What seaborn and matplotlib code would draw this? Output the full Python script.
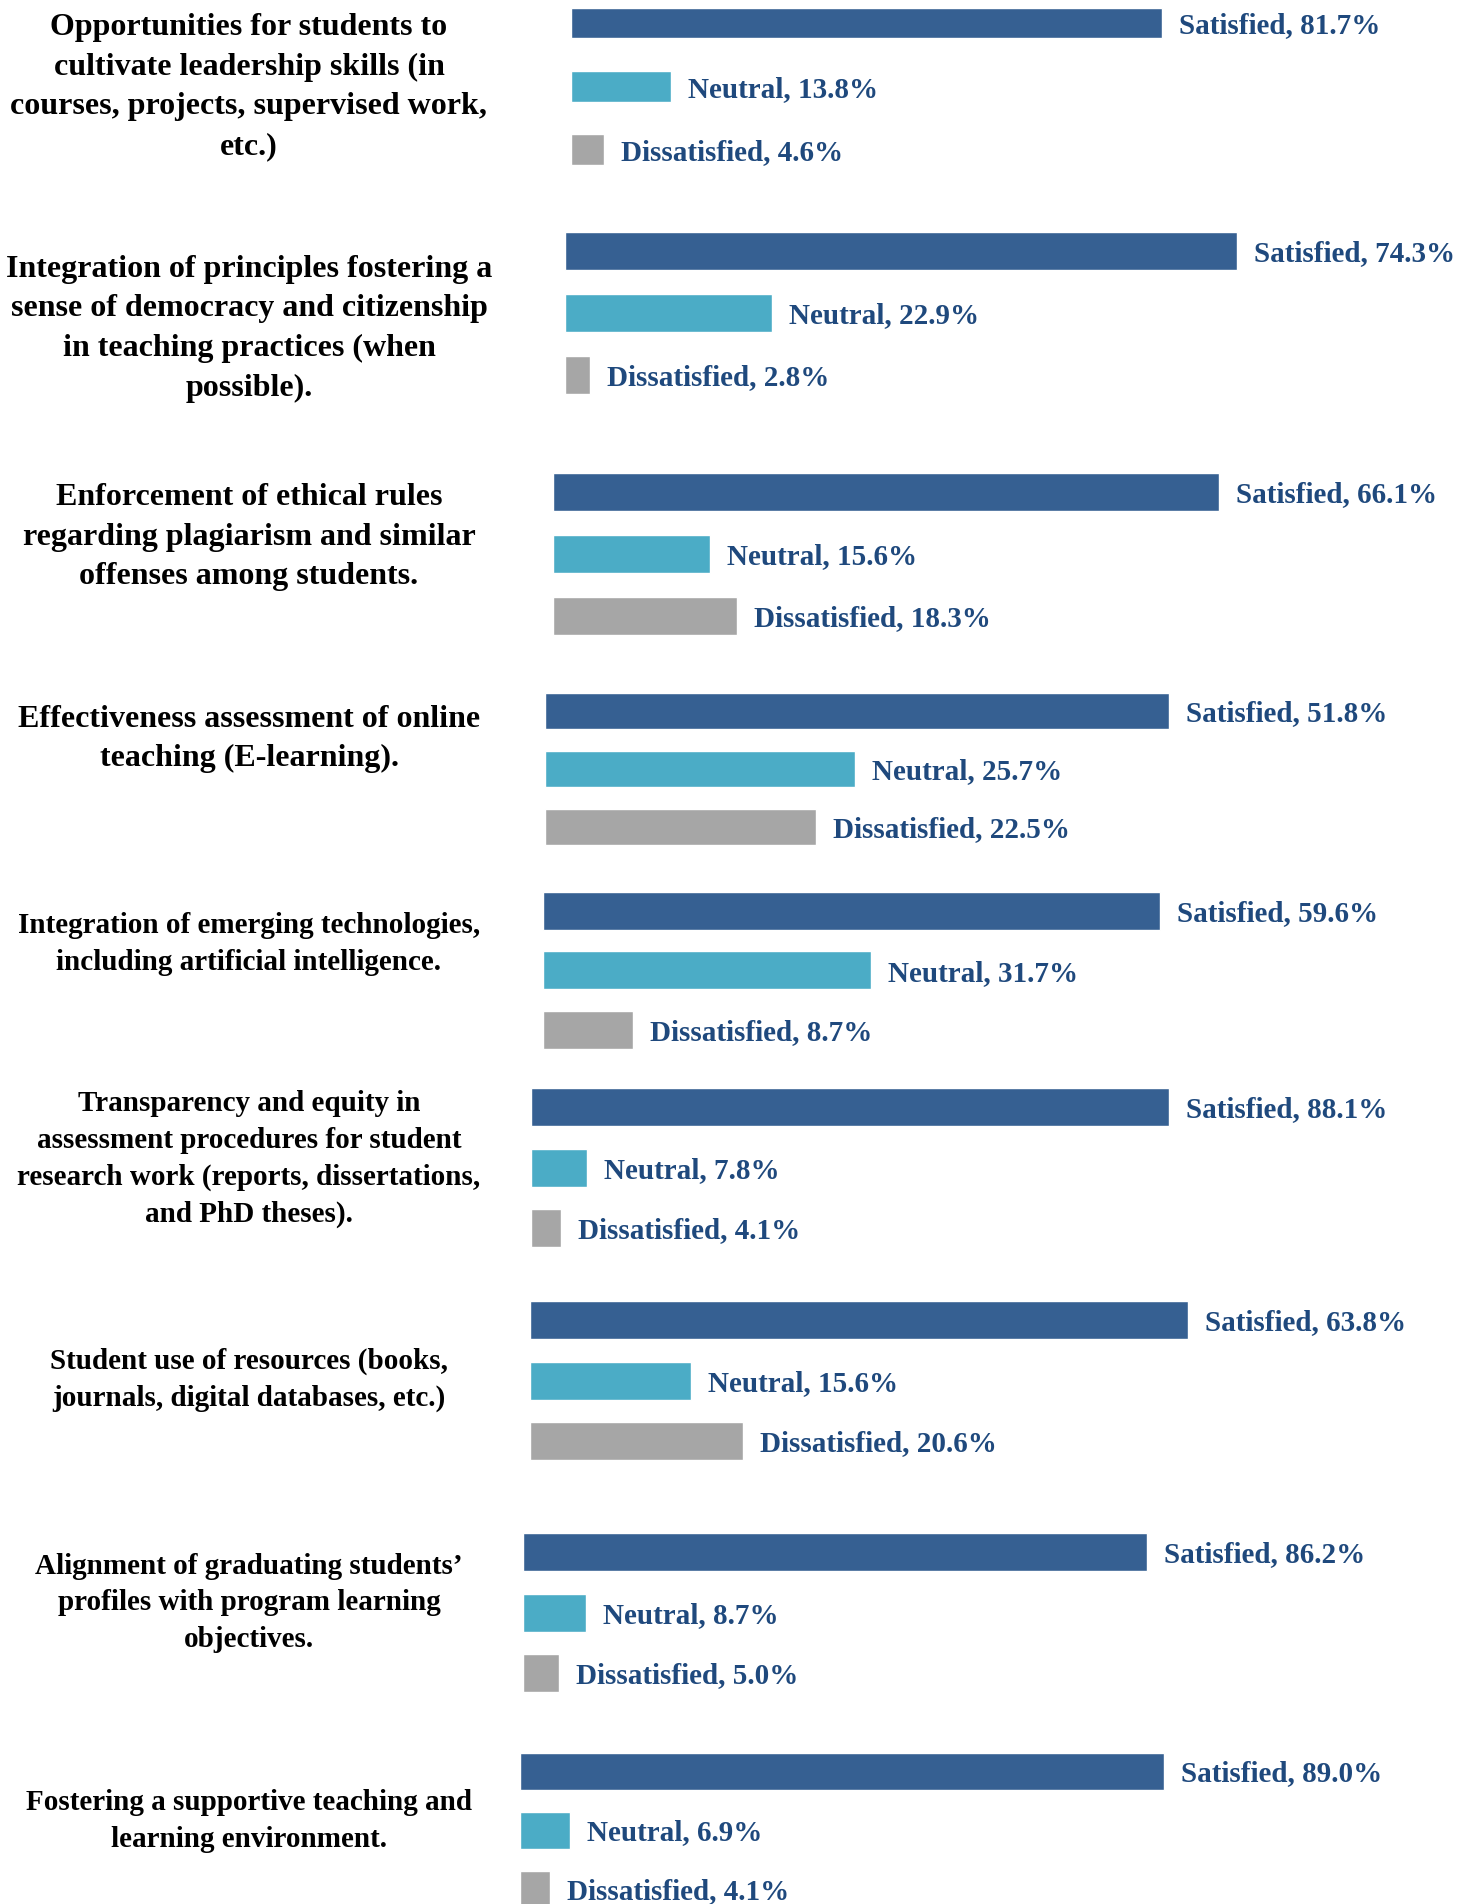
import matplotlib
matplotlib.use("Agg")
import matplotlib.pyplot as plt
import seaborn as sns
import pandas as pd

sns.set_style("white")
plt.rcParams["font.family"] = ["Liberation Serif", "DejaVu Serif"]
plt.rcParams["font.weight"] = "bold"

# ---------------- data ----------------
items = [
    "Opportunities for students to\ncultivate leadership skills (in\ncourses, projects, supervised work,\netc.)",
    "Integration of principles fostering a\nsense of democracy and citizenship\nin teaching practices (when\npossible).",
    "Enforcement of ethical rules\nregarding plagiarism and similar\noffenses among students.",
    "Effectiveness assessment of online\nteaching (E-learning).",
    "Integration of emerging technologies,\nincluding artificial intelligence.",
    "Transparency and equity in\nassessment procedures for student\nresearch work (reports, dissertations,\nand PhD theses).",
    "Student use of resources (books,\njournals, digital databases, etc.)",
    "Alignment of graduating students\u2019\nprofiles with program learning\nobjectives.",
    "Fostering a supportive teaching and\nlearning environment.",
]
categories = ["Satisfied", "Neutral", "Dissatisfied"]
satisfied = [81.7, 74.3, 66.1, 51.8, 59.6, 88.1, 63.8, 86.2, 89.0]
neutral = [13.8, 22.9, 15.6, 25.7, 31.7, 7.8, 15.6, 8.7, 6.9]
dissatisfied = [4.6, 2.8, 18.3, 22.5, 8.7, 4.1, 20.6, 5.0, 4.1]

palette = {"Satisfied": "#366092", "Neutral": "#4BACC6", "Dissatisfied": "#A6A6A6"}
label_color = "#1F497D"

# ---------------- layout (pixels on a 1460x1904 canvas) ----------------
W, H = 1460, 1904
# bar start x, px per percent, center y of first bar, spacing, bar thickness
geom = [
    (571, 7.23, 23, 63.5, 31),
    (565, 9.04, 251, 62, 38),
    (553, 10.08, 492, 62, 38),
    (545, 12.05, 711, 58, 36),
    (543, 10.35, 911, 59.5, 38),
    (531, 7.24, 1107, 60.5, 38),
    (530, 10.32, 1320, 60.5, 38),
    (523, 7.24, 1552, 60.5, 38),
    (520, 7.24, 1771, 59, 37),
]
# label center y, font size, line spacing
label_geom = [
    (87, 23, 1.49), (329, 23, 1.49), (537, 23, 1.49), (739, 23, 1.49),
    (944, 21, 1.46), (1159, 21, 1.46), (1380, 21, 1.46), (1603, 21, 1.46), (1821, 21, 1.46),
]

fig = plt.figure(figsize=(W / 100, H / 100), dpi=100)

for i in range(len(items)):
    x0, ppp, yc, s, h = geom[i]
    top = yc - s / 2
    ax = fig.add_axes([x0 / W, 1 - (top + 3 * s) / H, (W - x0) / W, 3 * s / H])
    df = pd.DataFrame({"category": categories,
                       "value": [satisfied[i], neutral[i], dissatisfied[i]]})
    sns.barplot(data=df, x="value", y="category", hue="category", palette=palette,
                order=categories, hue_order=categories, orient="h",
                width=h / s, legend=False, ax=ax, saturation=1, dodge=False)
    ax.set_xlim(0, (W - x0) / ppp)
    ax.set_ylim(2.5, -0.5)
    ax.set_axis_off()
    for j, cat in enumerate(categories):
        v = df["value"][j]
        ax.annotate(f"{cat}, {v:.1f}%", xy=(v, j), xytext=(12.2, 0),
                    textcoords="offset points", va="center_baseline", ha="left",
                    fontsize=21, fontweight="bold", color=label_color,
                    annotation_clip=False)

    ly, fs, lsp = label_geom[i]
    fig.text(249 / W, 1 - ly / H, items[i], ha="center", va="center",
             fontsize=fs, fontweight="bold", color="black",
             linespacing=lsp, multialignment="center")

fig.savefig("out.png", dpi=100)
